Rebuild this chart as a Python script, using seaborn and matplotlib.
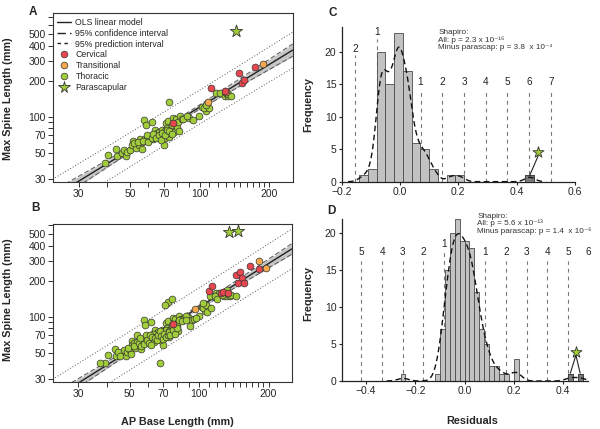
import numpy as np
import pandas as pd
import matplotlib
matplotlib.use("Agg")
import matplotlib.pyplot as plt
import seaborn as sns
from matplotlib.lines import Line2D
from matplotlib.ticker import FixedLocator, NullFormatter, FixedFormatter

sns.set_theme(style="ticks")
plt.rcParams['font.family'] = ['Liberation Sans', 'DejaVu Sans']
plt.rcParams['mathtext.default'] = 'regular'

# ---------------- data: panel A (AP base length, max spine length, mm) -------------
a_thor_x = [39.2, 40.3, 43.8, 43.4, 46.3, 47.1, 48.3, 48.6, 50.0, 51.3, 51.1, 53.0, 54.5, 55.2,
            56.1, 56.5, 57.6, 58.0, 59.0, 60.0, 61.0, 61.8, 62.2, 63.0, 64.1, 64.7, 65.5, 66.4,
            66.6, 67.3, 68.4, 69.1, 70.0, 70.5, 70.7, 71.4, 71.9, 72.6, 73.1, 73.8, 74.3, 74.8,
            75.5, 76.3, 76.9, 77.4, 78.1, 78.9, 79.9, 80.7, 81.3, 82.1, 83.5, 73.6, 90.1, 93.2,
            99.5, 102.6, 106.4, 118, 122, 128, 129.5, 132.6,
            52, 54, 57, 59, 60, 62, 63, 65, 67, 68, 69, 71, 72, 74, 76, 85, 88, 104, 110, 133,
            136, 58.5, 107]
a_thor_y = [40.6, 47.3, 47.0, 53.5, 49.4, 52.7, 47.1, 50.4, 52.7, 62.6, 58.1, 55.0, 58.1, 64.8,
            53.5, 61.0, 94.4, 65.2, 65.6, 67.4, 64.8, 69.2, 91.5, 64.8, 77.2, 70.9, 72.8, 68.3,
            74.7, 66.3, 71.4, 77.7, 57.7, 66.8, 76.7, 74.0, 88.5, 81.5, 92.6, 68.3, 77.7, 72.8,
            79.8, 85.6, 98.9, 74.7, 90.2, 96.0, 83.0, 90.7, 76.7, 101, 96.0, 135, 98.0, 94.4,
            101, 122, 113, 158, 158, 149, 158, 149,
            60, 62, 63, 70, 62, 66, 72, 67, 70, 64, 73, 70, 78, 76, 72, 97, 101, 118, 120, 155,
            150, 86, 126]
a_cerv_x = [76.9, 112, 128, 148, 153, 156, 173]
a_cerv_y = [89.6, 175, 167, 234, 193, 206, 263]
a_trans_x = [109, 130, 188]
a_trans_y = [135, 162, 279]
a_para_x = [143]
a_para_y = [533]

# ---------------- data: panel B ------------------------------------------------------
b_extra_thor_x = [37.1, 44.5, 45.5, 49.0, 50.5, 52.0, 53.8, 55.0, 56.0, 57.5, 58.0, 59.5, 60.5,
                  61.5, 62.5, 63.5, 64.5, 65.5, 66.5, 67.5, 68.0, 68.5, 69.5, 70.5, 71.3, 72.0,
                  73.0, 74.0, 75.0, 76.1, 77.0, 78.5, 80.0, 81.5, 84.0, 87.8, 91.6, 95.0, 97.0,
                  104, 108, 111, 113, 117, 120, 126, 132, 138, 144, 62.0, 55.5]
b_extra_thor_y = [41.0, 50.5, 46.5, 55.0, 49.0, 57.0, 70.9, 60.0, 57.0, 62.0, 59.0, 64.0, 60.0,
                  71.0, 68.0, 62.0, 66.0, 64.0, 71.0, 76.0, 41.1, 69.0, 65.0, 72.0, 126, 68.0,
                  71.0, 74.0, 70.0, 142, 78.0, 72.0, 80.0, 94.0, 92.0, 94.4, 84.0, 97.0, 99.0,
                  131, 110, 149, 120, 150, 141, 152, 169, 153, 149, 58.0, 66.0]
b_thor_x = a_thor_x + b_extra_thor_x
b_thor_y = a_thor_y + b_extra_thor_y
b_cerv_x = [76.9, 110, 114, 124, 127, 134, 145, 150, 153, 148, 157, 166, 181]
b_cerv_y = [87, 167, 183, 161, 163, 161, 225, 242, 215, 193, 195, 272, 253]
b_trans_x = [96, 182, 195]
b_trans_y = [116, 298, 258]
b_para_x = [135, 148]
b_para_y = [527, 533]

# ---------------- data: residual histograms --------------------------------------------
c_resid = [-0.125, -0.095, -0.065, -0.035, -0.005, 0.025, 0.055, 0.085, 0.115, 0.175, 0.205, 0.445]
c_count = [1, 2, 20, 15, 23, 17, 6, 5, 2, 1, 1, 1]
c_para_resid = [0.445]
c_binwidth = 0.03
c_mean, c_sd = -0.004, 0.0745
c_sd_left = [2, 1]
c_sd_right = [1, 2, 3, 4, 5, 6, 7]
c_star_x, c_star_y = [0.474], [4.5]

d_resid = [-0.25, -0.11, -0.09, -0.07, -0.05, -0.03, -0.01, 0.01, 0.03, 0.05, 0.07, 0.09,
           0.11, 0.13, 0.15, 0.17, 0.21, 0.43, 0.47]
d_count = [1, 1, 7, 15, 20, 22, 19, 19, 18, 12, 7, 5, 2, 2, 1, 1, 3, 1, 1]
d_para_resid = [0.43, 0.47]
d_binwidth = 0.02
d_mean, d_sd = 0.001, 0.084
d_sd_left = [5, 4, 3, 2, 1]
d_sd_right = [1, 2, 3, 4, 5, 6]
d_star_x, d_star_y = [0.453], [3.9]

c_text = "Shapiro:\nAll: p = 2.3 x 10\u207b\u00b9\u2076\nMinus parascap: p = 3.8  x 10\u207b\u2074"
d_text = "Shapiro:\nAll: p = 5.6 x 10\u207b\u00b9\u00b3\nMinus parascap: p = 1.4  x 10\u207b\u2076"
c_xticks = [-0.2, 0.0, 0.2, 0.4, 0.6]
d_xticks = [-0.4, -0.2, 0.0, 0.2, 0.4]

RED, ORANGE, GREEN = '#e8474f', '#f5a84c', '#a2cd3a'
EDGE = '#333333'
TICK_FS, LABEL_FS = 7.5, 7.8

fig = plt.figure(figsize=(6, 4.29), dpi=100)
axA = fig.add_axes([0.0878, 0.5765, 0.400, 0.3925])
axB = fig.add_axes([0.0878, 0.1103, 0.3983, 0.3676])
axC = fig.add_axes([0.5695, 0.5765, 0.3888, 0.3613])
axD = fig.add_axes([0.5692, 0.1119, 0.4100, 0.3770])

XLIM = (23.2, 252)


def scatter_panel(ax, thx, thy, cx, cy, tx, ty, px, py, ylim):
    allx = np.array(thx + cx + tx + px, float)
    ally = np.array(thy + cy + ty + py, float)
    lx, ly = np.log10(allx), np.log10(ally)
    n = len(lx)
    slope, icpt = np.polyfit(lx, ly, 1)
    res = ly - (icpt + slope * lx)
    s = np.sqrt(np.sum(res ** 2) / (n - 2))
    xbar = lx.mean()
    sxx = np.sum((lx - xbar) ** 2)
    t = 1.98
    gx = np.linspace(np.log10(XLIM[0]), np.log10(XLIM[1]), 200)
    fit = icpt + slope * gx
    ci = t * s * np.sqrt(1 / n + (gx - xbar) ** 2 / sxx)
    pi = t * s * np.sqrt(1 + 1 / n + (gx - xbar) ** 2 / sxx)
    X = 10 ** gx
    ax.set_xscale('log')
    ax.set_yscale('log')
    ax.fill_between(X, 10 ** (fit - ci), 10 ** (fit + ci), color='#c6c6c6', lw=0, zorder=1)
    for sgn in (-1, 1):
        ax.plot(X, 10 ** (fit + sgn * ci), color='#555555', lw=0.7, ls=(0, (5, 2.5)), zorder=2)
        ax.plot(X, 10 ** (fit + sgn * pi), color='#555555', lw=0.7, ls=(0, (1, 2)), zorder=2)
    ax.plot(X, 10 ** fit, color='#222222', lw=1.0, zorder=2)

    sns.scatterplot(x=thx, y=thy, color=GREEN, edgecolor=EDGE, linewidth=0.5, s=24, ax=ax, zorder=3)
    sns.scatterplot(x=tx, y=ty, color=ORANGE, edgecolor=EDGE, linewidth=0.5, s=24, ax=ax, zorder=4)
    sns.scatterplot(x=cx, y=cy, color=RED, edgecolor=EDGE, linewidth=0.5, s=24, ax=ax, zorder=4)
    sns.scatterplot(x=px, y=py, color=GREEN, edgecolor=EDGE, linewidth=0.6, s=85, marker='*',
                    ax=ax, zorder=5)

    ax.set_xlim(*XLIM)
    ax.set_ylim(*ylim)
    ax.xaxis.set_major_locator(FixedLocator([30, 50, 70, 100, 200]))
    ax.xaxis.set_major_formatter(FixedFormatter(['30', '50', '70', '100', '200']))
    ax.xaxis.set_minor_locator(FixedLocator([40, 60, 80, 90, 110, 120, 130, 140, 150, 160,
                                             170, 180, 190]))
    ax.xaxis.set_minor_formatter(NullFormatter())
    ax.yaxis.set_major_locator(FixedLocator([30, 50, 70, 100, 200, 300, 400, 500]))
    ax.yaxis.set_major_formatter(FixedFormatter(['30', '50', '70', '100', '200', '300', '400', '500']))
    ax.yaxis.set_minor_locator(FixedLocator([40, 60, 80, 90, 600, 700]))
    ax.yaxis.set_minor_formatter(NullFormatter())
    ax.tick_params(which='both', direction='out', length=3.5, width=0.7, color='#333333',
                   labelsize=TICK_FS, pad=1.5)
    for sp in ax.spines.values():
        sp.set_linewidth(0.8)
        sp.set_color('#333333')
    ax.set_xlabel('')
    ax.set_ylabel('Max Spine Length (mm)', fontsize=LABEL_FS, fontweight='bold')


scatter_panel(axA, a_thor_x, a_thor_y, a_cerv_x, a_cerv_y, a_trans_x, a_trans_y,
              a_para_x, a_para_y, (28.4, 752))
scatter_panel(axB, b_thor_x, b_thor_y, b_cerv_x, b_cerv_y, b_trans_x, b_trans_y,
              b_para_x, b_para_y, (28.4, 611))
axA.yaxis.set_label_coords(-0.167, 0.49)
axB.yaxis.set_label_coords(-0.167, 0.52)
axB.set_xlabel('AP Base Length (mm)', fontsize=LABEL_FS, fontweight='bold')
axB.xaxis.set_label_coords(0.52, -0.222)

handles = [
    Line2D([], [], color='#222222', lw=1.0),
    Line2D([], [], color='#222222', lw=1.0, ls=(0, (6, 3))),
    Line2D([], [], color='#222222', lw=1.0, ls=(0, (2.5, 2.5))),
    Line2D([], [], ls='', marker='o', mfc=RED, mec=EDGE, mew=0.5, ms=4.8),
    Line2D([], [], ls='', marker='o', mfc=ORANGE, mec=EDGE, mew=0.5, ms=4.8),
    Line2D([], [], ls='', marker='o', mfc=GREEN, mec=EDGE, mew=0.5, ms=4.8),
    Line2D([], [], ls='', marker='*', mfc=GREEN, mec=EDGE, mew=0.6, ms=8.5),
]
labels = ['OLS linear model', '95% confidence interval', '95% prediction interval',
          'Cervical', 'Transitional', 'Thoracic', 'Parascapular']
axA.legend(handles, labels, loc='upper left', bbox_to_anchor=(0.0, 1.0), frameon=False,
           fontsize=6.3, handlelength=1.6, handletextpad=0.5, labelspacing=0.22,
           borderaxespad=0.3, borderpad=0.2)


def hist_panel(ax, resid, count, para, bw, mean, sd, left, right, xlim, ylim,
               lab_y, line_top, left_lab_y, left_top, bw_adjust):
    vals = np.repeat(resid, count)
    lo = min(resid) - bw / 2
    hi = max(resid) + bw / 2
    edges = np.arange(lo, hi + bw / 2, bw)
    sns.histplot(x=vals, bins=edges, kde=True, kde_kws={'bw_adjust': bw_adjust, 'cut': 3},
                 color='#c2c2c2', edgecolor='#4a4a4a', linewidth=0.6, alpha=1, ax=ax, zorder=2)
    kde_line = ax.lines[-1]
    kde_line.set_color('#111111')
    kde_line.set_linestyle((0, (4, 2.5)))
    kde_line.set_linewidth(1.0)
    kde_line.set_zorder(4)
    sns.histplot(x=para, bins=edges, color='#7a7a7a', edgecolor='#3a3a3a', linewidth=0.6,
                 alpha=1, ax=ax, zorder=3)
    # standard-deviation markers
    for k in left:
        x = mean - k * sd
        top = left_top.get(k, line_top)
        ly = left_lab_y.get(k, lab_y)
        ax.vlines(x, 0, top, colors='#777777', lw=0.8, linestyles=(0, (3.5, 3.5)), zorder=1)
        ax.text(x, ly, str(k), ha='center', va='center', fontsize=7.2, color='#222222')
    for k in right:
        x = mean + k * sd
        ax.vlines(x, 0, line_top, colors='#777777', lw=0.8, linestyles=(0, (3.5, 3.5)), zorder=1)
        ax.text(x, lab_y, str(k), ha='center', va='center', fontsize=7.2, color='#222222')
    ax.set_xlim(*xlim)
    ax.set_ylim(*ylim)
    ax.set_yticks([0, 5, 10, 15, 20])
    sns.despine(ax=ax)
    for sp in ('left', 'bottom'):
        ax.spines[sp].set_linewidth(0.9)
        ax.spines[sp].set_color('#222222')
    ax.tick_params(direction='out', length=2.5, width=0.8, color='#222222',
                   labelsize=TICK_FS, pad=1.2)
    ax.set_ylabel('Frequency', fontsize=LABEL_FS, fontweight='bold')
    ax.set_xlabel('')


def fmt_ticks(vals):
    return [f"{v:.1f}".replace('-', '\u2212') for v in vals]


hist_panel(axC, c_resid, c_count, c_para_resid, c_binwidth, c_mean, c_sd, c_sd_left,
           c_sd_right, (-0.2, 0.6), (0, 23.9), 15.3, 13.9, {2: 20.5, 1: 23.1}, {2: 19.5, 1: 22.0}, 0.6)
axC.set_xticks(c_xticks)
axC.set_xticklabels(fmt_ticks(c_xticks))
axC.yaxis.set_label_coords(-0.12, 0.5)

hist_panel(axD, d_resid, d_count, d_para_resid, d_binwidth, d_mean, d_sd, d_sd_left,
           d_sd_right, (-0.5, 0.5), (0, 21.9), 17.4, 16.2, {1: 18.5}, {1: 17.6}, 0.75)
axD.set_xticks(d_xticks)
axD.set_xticklabels(fmt_ticks(d_xticks))
axD.yaxis.set_label_coords(-0.115, 0.54)
axD.set_xlabel('Residuals', fontsize=LABEL_FS, fontweight='bold')
axD.xaxis.set_label_coords(0.532, -0.216)

# parascapular markers over histograms
axC.plot([c_para_resid[0], c_star_x[0]], [1.0, c_star_y[0] - 0.5],
         color='#222222', lw=0.8, zorder=5)
sns.scatterplot(x=c_star_x, y=c_star_y, marker='*', s=70, color=GREEN, edgecolor=EDGE,
                linewidth=0.6, ax=axC, zorder=6, clip_on=False)
for px in d_para_resid:
    axD.plot([d_star_x[0], px], [d_star_y[0] - 0.4, 1.05], color='#222222', lw=0.8, zorder=5)
sns.scatterplot(x=d_star_x, y=d_star_y, marker='*', s=70, color=GREEN, edgecolor=EDGE,
                linewidth=0.6, ax=axD, zorder=6, clip_on=False)

axC.text(0.131, 23.5, c_text, fontsize=5.9, color='#333333', ha='left', va='top',
         linespacing=1.02)
axD.text(0.052, 22.8, d_text, fontsize=5.9, color='#333333', ha='left', va='top',
         linespacing=1.02)

for lab, x, y in (('A', 33 / 600, 1 - 11.7 / 429), ('B', 35 / 600, 1 - 208.3 / 429),
                  ('C', 332.7 / 600, 1 - 12.7 / 429), ('D', 331 / 600, 1 - 211 / 429)):
    fig.text(x, y, lab, fontsize=8.5, fontweight='bold', ha='center', va='center')

fig.savefig('out.png', dpi=100)
